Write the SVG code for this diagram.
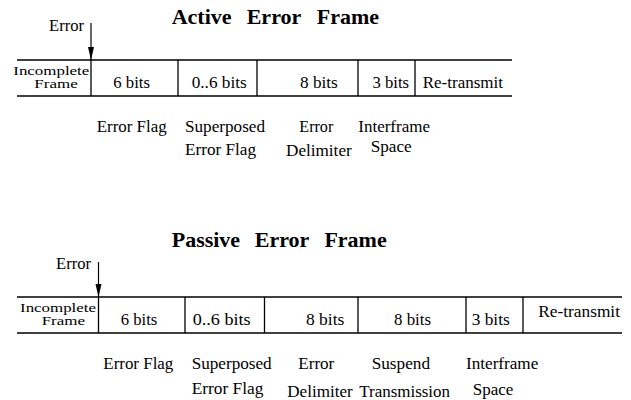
<svg xmlns="http://www.w3.org/2000/svg" width="631" height="400" viewBox="0 0 631 400">
<style>
  text{font-family:"Liberation Serif","Times New Roman","DejaVu Serif",serif;fill:#000}
  .t{font-size:16px}
  .s{font-size:13.5px}
  .title{font-size:22px;font-weight:bold}
  .ln{stroke:#000;stroke-width:1.3;fill:none}
  .ar{stroke:#000;stroke-width:1.2;fill:none;marker-end:url(#ah)}
</style>
<defs>
  <marker id="ah" markerUnits="userSpaceOnUse" markerWidth="14" markerHeight="7" refX="13" refY="3.5" orient="auto">
    <path d="M0,0.5 L13,3.5 L0,6.5 z" fill="#000"/>
  </marker>
</defs>
<rect width="631" height="400" fill="#fff"/>

<!-- Active Error Frame -->
<g id="active-title">
  <text class="title" y="24"><tspan x="171.7">Active</tspan><tspan x="246.7">Error</tspan><tspan x="316.8">Frame</tspan></text>
</g>
<g id="active-frame">
  <line class="ln" x1="17" y1="60" x2="512" y2="60"/>
  <line class="ln" x1="17" y1="96" x2="512" y2="96"/>
  <line class="ln" x1="91" y1="60" x2="91" y2="96"/>
  <line class="ln" x1="178" y1="60" x2="178" y2="96"/>
  <line class="ln" x1="257" y1="60" x2="257" y2="96"/>
  <line class="ln" x1="358" y1="60" x2="358" y2="96"/>
  <line class="ln" x1="415" y1="60" x2="415" y2="96"/>
</g>
<g id="active-incomplete">
  <text class="s" x="13.3" y="74.5" textLength="76" lengthAdjust="spacingAndGlyphs">Incomplete</text>
  <text class="s" x="34.3" y="88" textLength="43.4" lengthAdjust="spacingAndGlyphs">Frame</text>
</g>
<g id="active-errorflag">
  <text class="t" x="113.3" y="88" textLength="36.7" lengthAdjust="spacingAndGlyphs">6 bits</text>
  <text class="t" x="96.7" y="132" textLength="70" lengthAdjust="spacingAndGlyphs">Error Flag</text>
</g>
<g id="active-superposed">
  <text class="t" x="191.7" y="88" textLength="55" lengthAdjust="spacingAndGlyphs">0..6 bits</text>
  <text class="t" x="185" y="132" textLength="80" lengthAdjust="spacingAndGlyphs">Superposed</text>
  <text class="t" x="185" y="155" textLength="71" lengthAdjust="spacingAndGlyphs">Error Flag</text>
</g>
<g id="active-delimiter">
  <text class="t" x="300" y="88" textLength="37.7" lengthAdjust="spacingAndGlyphs">8 bits</text>
  <text class="t" x="299.3" y="132" textLength="34" lengthAdjust="spacingAndGlyphs">Error</text>
  <text class="t" x="286" y="156" textLength="65.7" lengthAdjust="spacingAndGlyphs">Delimiter</text>
</g>
<g id="active-interframe">
  <text class="t" x="372.5" y="88" textLength="36.5" lengthAdjust="spacingAndGlyphs">3 bits</text>
  <text class="t" x="358.3" y="132" textLength="71.7" lengthAdjust="spacingAndGlyphs">Interframe</text>
  <text class="t" x="370.7" y="152" textLength="41" lengthAdjust="spacingAndGlyphs">Space</text>
</g>
<g id="active-retransmit">
  <text class="t" x="422.7" y="88" textLength="80.3" lengthAdjust="spacingAndGlyphs">Re-transmit</text>
</g>
<g id="active-error">
  <text class="t" x="49" y="31" textLength="35" lengthAdjust="spacingAndGlyphs">Error</text>
</g>

<!-- Passive Error Frame -->
<g id="passive-title">
  <text class="title" y="246.7"><tspan x="171.7">Passive</tspan><tspan x="254.8">Error</tspan><tspan x="324.4">Frame</tspan></text>
</g>
<g id="passive-frame">
  <line class="ln" x1="17" y1="297" x2="622" y2="297"/>
  <line class="ln" x1="17" y1="333" x2="622" y2="333"/>
  <line class="ln" x1="98.5" y1="297" x2="98.5" y2="333"/>
  <line class="ln" x1="185" y1="297" x2="185" y2="333"/>
  <line class="ln" x1="264.5" y1="297" x2="264.5" y2="333"/>
  <line class="ln" x1="358" y1="297" x2="358" y2="333"/>
  <line class="ln" x1="466" y1="297" x2="466" y2="333"/>
  <line class="ln" x1="523" y1="297" x2="523" y2="333"/>
</g>
<g id="passive-incomplete">
  <text class="s" x="20" y="311.5" textLength="76" lengthAdjust="spacingAndGlyphs">Incomplete</text>
  <text class="s" x="41.7" y="325" textLength="43.3" lengthAdjust="spacingAndGlyphs">Frame</text>
</g>
<g id="passive-errorflag">
  <text class="t" x="120.7" y="325" textLength="36.6" lengthAdjust="spacingAndGlyphs">6 bits</text>
  <text class="t" x="103.3" y="369" textLength="70" lengthAdjust="spacingAndGlyphs">Error Flag</text>
</g>
<g id="passive-superposed">
  <text class="t" x="192.7" y="325" textLength="58" lengthAdjust="spacingAndGlyphs">0..6 bits</text>
  <text class="t" x="191.7" y="369" textLength="80" lengthAdjust="spacingAndGlyphs">Superposed</text>
  <text class="t" x="191.7" y="394" textLength="71.6" lengthAdjust="spacingAndGlyphs">Error Flag</text>
</g>
<g id="passive-delimiter">
  <text class="t" x="306" y="325" textLength="38.3" lengthAdjust="spacingAndGlyphs">8 bits</text>
  <text class="t" x="298.3" y="369" textLength="36" lengthAdjust="spacingAndGlyphs">Error</text>
  <text class="t" x="287.3" y="396.7" textLength="65.4" lengthAdjust="spacingAndGlyphs">Delimiter</text>
</g>
<g id="passive-suspend">
  <text class="t" x="394" y="325" textLength="37" lengthAdjust="spacingAndGlyphs">8 bits</text>
  <text class="t" x="371.7" y="369" textLength="58.3" lengthAdjust="spacingAndGlyphs">Suspend</text>
  <text class="t" x="359.3" y="396.7" textLength="90.7" lengthAdjust="spacingAndGlyphs">Transmission</text>
</g>
<g id="passive-interframe">
  <text class="t" x="471.7" y="325" textLength="38" lengthAdjust="spacingAndGlyphs">3 bits</text>
  <text class="t" x="466" y="369" textLength="72.3" lengthAdjust="spacingAndGlyphs">Interframe</text>
  <text class="t" x="472.7" y="395" textLength="40.6" lengthAdjust="spacingAndGlyphs">Space</text>
</g>
<g id="passive-retransmit">
  <text class="t" x="538.3" y="316.7" textLength="81.7" lengthAdjust="spacingAndGlyphs">Re-transmit</text>
</g>
<g id="passive-error">
  <text class="t" x="56" y="269" textLength="35" lengthAdjust="spacingAndGlyphs">Error</text>
</g>

<g id="connectors">
  <line class="ar" x1="91" y1="23" x2="91" y2="60"/>
  <line class="ar" x1="98.5" y1="262" x2="98.5" y2="297"/>
</g>
</svg>
